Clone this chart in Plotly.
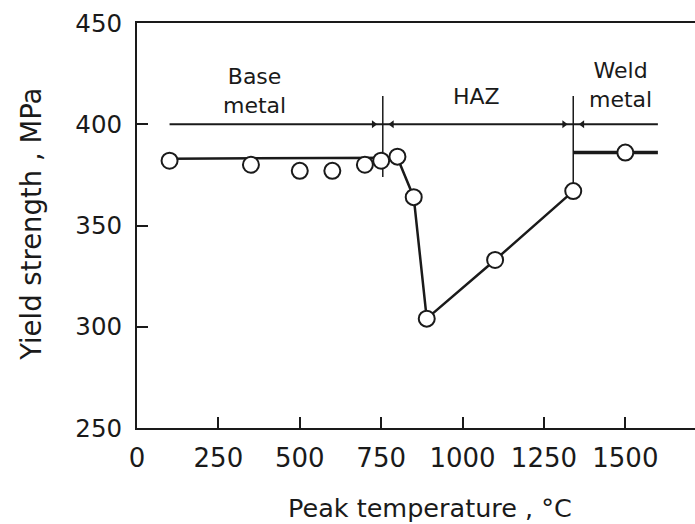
import plotly.graph_objects as go

# Measured yield strength vs. peak temperature of the thermal cycle
peak_temp = [100, 350, 500, 600, 700, 750, 800, 850, 890, 1100, 1340, 1500]
yield_strength = [382, 380, 377, 377, 380, 382, 384, 364, 304, 333, 367, 386]

# Trend line through the base metal and HAZ
trend_temp = [100, 800, 850, 890, 1100, 1340]
trend_ys = [383, 383.5, 364, 304, 333, 367]

# Weld metal level
weld_temp = [1340, 1600]
weld_ys = [386, 386]

# Zone bar (Base metal | HAZ | Weld metal)
zone_level = 400
zone_span = [100, 1600]
zone_bounds = [755, 1340]
zone_bound_top = 414
zone_bound_bottom = [374, 371]
zone_names = ["Base<br>metal", "HAZ", "Weld<br>metal"]

x_ticks = [0, 250, 500, 750, 1000, 1250, 1500]
y_ticks = [250, 300, 350, 400, 450]

FONT = "DejaVu Sans"
INK = "#1a1a1a"

fig = go.Figure()

# zone bar
fig.add_trace(go.Scatter(x=zone_span, y=[zone_level, zone_level], mode="lines",
                         line=dict(color=INK, width=2), hoverinfo="skip"))
for b, yb in zip(zone_bounds, zone_bound_bottom):
    fig.add_trace(go.Scatter(x=[b, b], y=[zone_bound_top, yb], mode="lines",
                             line=dict(color=INK, width=1.5), hoverinfo="skip"))
    fig.add_trace(go.Scatter(x=[b - 28, b + 28], y=[zone_level, zone_level], mode="markers",
                             marker=dict(symbol=["triangle-right", "triangle-left"], size=7,
                                         color=INK, line=dict(width=0)),
                             hoverinfo="skip"))

# trend lines
fig.add_trace(go.Scatter(x=trend_temp, y=trend_ys, mode="lines",
                         line=dict(color=INK, width=2.5), hoverinfo="skip"))
fig.add_trace(go.Scatter(x=weld_temp, y=weld_ys, mode="lines",
                         line=dict(color=INK, width=3.5), hoverinfo="skip"))

# measured points
fig.add_trace(go.Scatter(x=peak_temp, y=yield_strength, mode="markers",
                         marker=dict(symbol="circle", size=16, color="white",
                                     line=dict(color=INK, width=2))))

# zone names
label_pos = [(362, 416.3), (1044, 413.8), (1484, 419.2)]
for text, (lx, ly) in zip(zone_names, label_pos):
    fig.add_annotation(x=lx, y=ly, text=text, showarrow=False, xanchor="center",
                       yanchor="middle", align="center",
                       font=dict(family=FONT, size=22, color=INK))

# axis titles
fig.add_annotation(xref="paper", yref="paper", x=0.525, y=-0.197,
                   text="Peak temperature , °C", showarrow=False,
                   xanchor="center", yanchor="middle",
                   font=dict(family=FONT, size=25.5, color=INK))
fig.add_annotation(xref="paper", yref="paper", x=-0.19, y=0.504,
                   text="Yield strength , MPa", showarrow=False, textangle=-90,
                   xanchor="center", yanchor="middle",
                   font=dict(family=FONT, size=27.5, color=INK))

fig.update_layout(
    width=695, height=524,
    margin=dict(l=137, r=0, t=23, b=96),
    paper_bgcolor="white", plot_bgcolor="white",
    showlegend=False,
    font=dict(family=FONT, size=24, color=INK),
    xaxis=dict(range=[0, 1714], tickvals=x_ticks, ticks="inside", ticklen=11,
               tickwidth=1.5, tickcolor=INK, showline=True, linecolor=INK, linewidth=2,
               mirror=True, showgrid=False, zeroline=False,
               tickfont=dict(family=FONT, size=26, color=INK), ticklabelstandoff=6),
    yaxis=dict(range=[250, 450], tickvals=y_ticks, ticks="inside", ticklen=11,
               tickwidth=1.5, tickcolor=INK, showline=True, linecolor=INK, linewidth=2,
               mirror=False, showgrid=False, zeroline=False,
               tickfont=dict(family=FONT, size=24.5, color=INK), ticklabelstandoff=8),
)

fig.write_html("out.html")
